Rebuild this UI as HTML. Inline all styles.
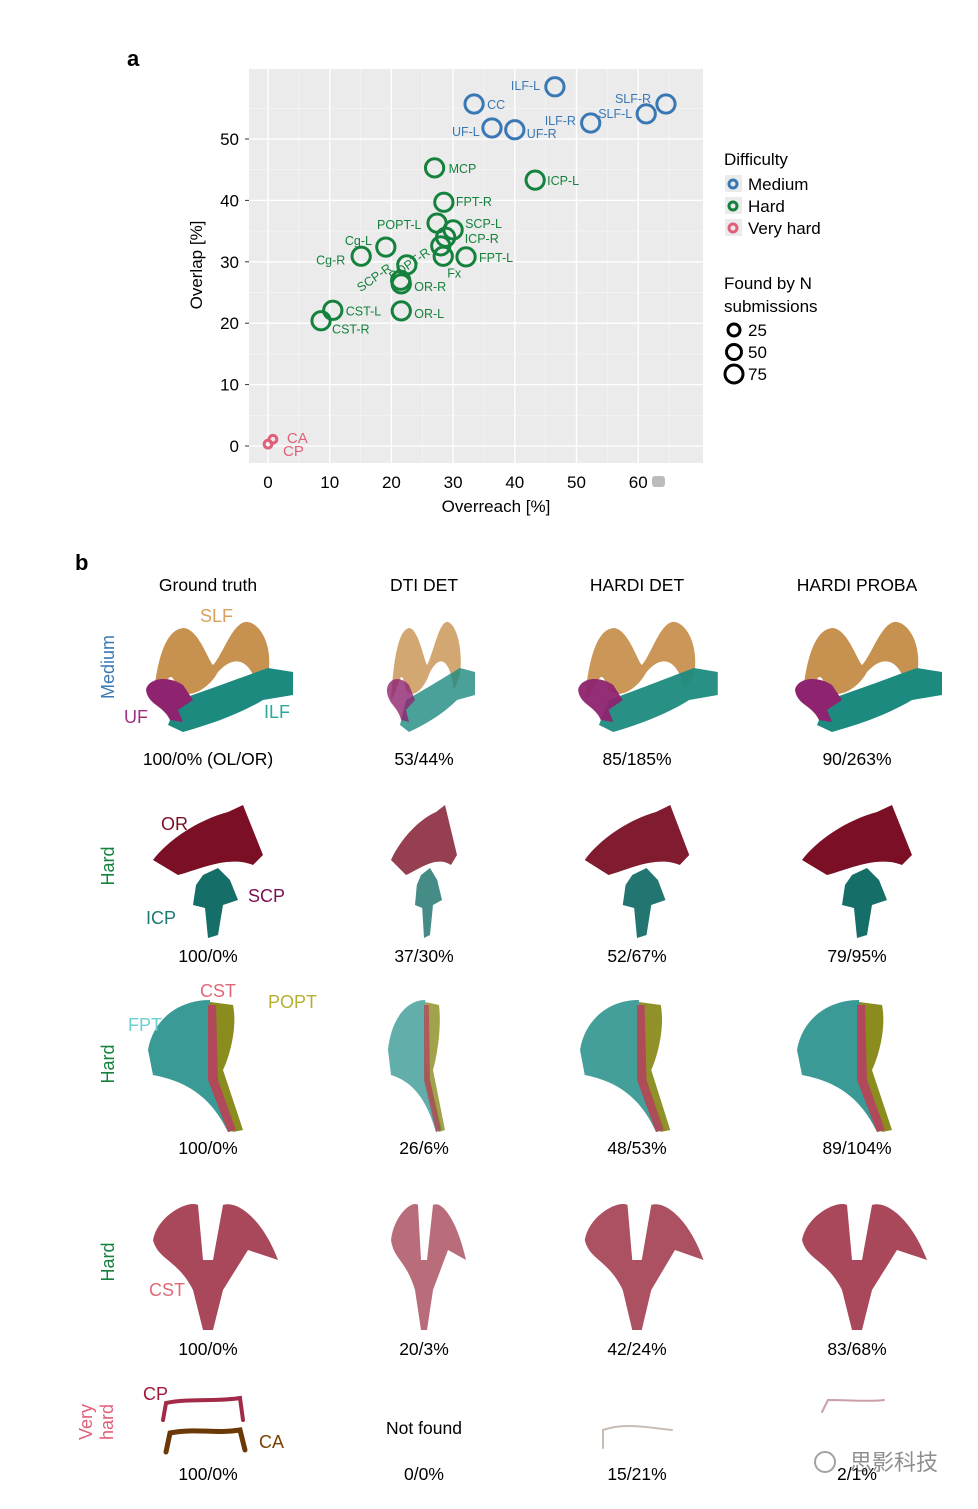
<!DOCTYPE html>
<html><head><meta charset="utf-8"><style>
html,body{margin:0;padding:0;background:#fff;}
body{width:978px;height:1504px;position:relative;overflow:hidden;font-family:"Liberation Sans","Noto Sans CJK SC",sans-serif;}
svg text{font-family:"Liberation Sans","Noto Sans CJK SC",sans-serif;}
</style></head><body>
<svg id="chart" width="978" height="1504" viewBox="0 0 978 1504" xmlns="http://www.w3.org/2000/svg">
<text x="127" y="66" font-size="22" font-weight="bold">a</text>
<rect x="249" y="69" width="454" height="394" fill="#ebebeb"/>
<g id="grid"></g>
<g id="xaxis"></g>
<g id="yaxis"></g>
<text x="496" y="512" font-size="17" text-anchor="middle">Overreach [%]</text>
<text transform="translate(202,265) rotate(-90)" font-size="17" text-anchor="middle">Overlap [%]</text>
<rect x="652" y="476" width="13" height="11" rx="3" fill="#bbb"/>
<g id="points"></g>
<g>
<text x="724" y="165" font-size="17">Difficulty</text>
<g><rect x="725" y="175" width="17" height="17" fill="#ebebeb"/><circle cx="733" cy="184" r="4" fill="none" stroke="#3a78b5" stroke-width="3"/><text x="748" y="190" font-size="17">Medium</text></g>
<g><rect x="725" y="197" width="17" height="17" fill="#ebebeb"/><circle cx="733" cy="206" r="4" fill="none" stroke="#14823c" stroke-width="3"/><text x="748" y="212" font-size="17">Hard</text></g>
<g><rect x="725" y="219" width="17" height="17" fill="#ebebeb"/><circle cx="733" cy="228" r="4" fill="none" stroke="#e0607a" stroke-width="3"/><text x="748" y="234" font-size="17">Very hard</text></g>
<text x="724" y="289" font-size="17">Found by N</text>
<text x="724" y="312" font-size="17">submissions</text>
<g><circle cx="734" cy="330" r="6" fill="none" stroke="#000" stroke-width="3"/><text x="748" y="336" font-size="17">25</text></g>
<g><circle cx="734" cy="352" r="7.5" fill="none" stroke="#000" stroke-width="3"/><text x="748" y="358" font-size="17">50</text></g>
<g><circle cx="734" cy="374" r="9" fill="none" stroke="#000" stroke-width="3"/><text x="748" y="380" font-size="17">75</text></g>
</g>

<text x="75" y="570" font-size="22" font-weight="bold">b</text>
<g font-size="17.5" text-anchor="middle">
<text x="208" y="591">Ground truth</text>
<text x="424" y="591">DTI DET</text>
<text x="637" y="591">HARDI DET</text>
<text x="857" y="591">HARDI PROBA</text>
</g>
<g font-size="18" text-anchor="middle">
<text transform="translate(114,667) rotate(-90)" fill="#3a78b5">Medium</text>
<text transform="translate(114,866) rotate(-90)" fill="#14823c">Hard</text>
<text transform="translate(114,1064) rotate(-90)" fill="#14823c">Hard</text>
<text transform="translate(114,1262) rotate(-90)" fill="#14823c">Hard</text>
<text transform="translate(92,1422) rotate(-90)" fill="#e0607a">Very</text>
<text transform="translate(113,1422) rotate(-90)" fill="#e0607a">hard</text>
</g>
<g id="tracts"></g>
<g font-size="17.5" text-anchor="middle">
<text x="208" y="765">100/0% (OL/OR)</text><text x="424" y="765">53/44%</text><text x="637" y="765">85/185%</text><text x="857" y="765">90/263%</text>
<text x="208" y="962">100/0%</text><text x="424" y="962">37/30%</text><text x="637" y="962">52/67%</text><text x="857" y="962">79/95%</text>
<text x="208" y="1154">100/0%</text><text x="424" y="1154">26/6%</text><text x="637" y="1154">48/53%</text><text x="857" y="1154">89/104%</text>
<text x="208" y="1355">100/0%</text><text x="424" y="1355">20/3%</text><text x="637" y="1355">42/24%</text><text x="857" y="1355">83/68%</text>
<text x="424" y="1434">Not found</text>
<text x="208" y="1480">100/0%</text><text x="424" y="1480">0/0%</text><text x="637" y="1480">15/21%</text><text x="857" y="1480">2/1%</text>
</g>
<g font-size="18">
<text x="200" y="622" fill="#d9a060">SLF</text><text x="124" y="723" fill="#a03080">UF</text><text x="264" y="718" fill="#2aa89c">ILF</text>
<text x="161" y="830" fill="#7a0f25">OR</text><text x="248" y="902" fill="#7a1050">SCP</text><text x="146" y="924" fill="#1a7a70">ICP</text>
<text x="200" y="997" fill="#e06878">CST</text><text x="268" y="1008" fill="#b5b030">POPT</text><text x="128" y="1031" fill="#6dd0d0">FPT</text>
<text x="149" y="1296" fill="#e06878">CST</text>
<text x="143" y="1400" fill="#a01838">CP</text><text x="259" y="1448" fill="#7a4000">CA</text>
</g>
<g opacity="0.6"><text x="850" y="1470" font-size="22" fill="#444">思影科技</text><circle cx="825" cy="1462" r="10" fill="none" stroke="#666" stroke-width="2"/></g>
</svg>
<script>
const xTicks=[0,10,20,30,40,50,60];
const yTicks=[0,10,20,30,40,50];
const labels=["ILF-L","CC","SLF-R","SLF-L","ILF-R","UF-L","UF-R","MCP","ICP-L","FPT-R","POPT-L","SCP-L","ICP-R","Cg-L","Cg-R","POPT-R","FPT-L","Fx","Fx2","SCP-R","OR-R","OR-L","CST-L","CST-R","CA","CP"];
const overreach=[46.5,33.4,64.5,61.3,52.3,36.3,40,27,43.3,28.5,27.4,30,28.8,19.1,15.1,22.5,32.1,28.4,28,21.5,21.6,21.6,10.5,8.6,0.8,0];
const overlap=[58.5,55.7,55.7,54.1,52.6,51.8,51.5,45.3,43.3,39.7,36.3,35.2,34,32.4,30.9,29.5,30.8,30.9,32.6,27,26.4,22,22.1,20.4,1.1,0.3];
const difficulty=["M","M","M","M","M","M","M","H","H","H","H","H","H","H","H","H","H","H","H","H","H","H","H","H","V","V"];
const nFound=[75,75,75,75,75,75,75,75,75,75,75,75,75,75,75,75,75,75,75,75,75,75,75,75,5,5];
const NS="http://www.w3.org/2000/svg";
const X=v=>268+v*6.17, Y=v=>446-v*6.14, R=n=>3.5+n*0.075;
const col={M:"#3a78b5",H:"#14823c",V:"#e0607a"};
function mk(t,a,p){const e=document.createElementNS(NS,t);for(const k in a)e.setAttribute(k,a[k]);p.appendChild(e);return e;}
const grid=document.getElementById('grid');
for(let i=0;i<xTicks.length;i++){const v=xTicks[i];const l=mk('line',{x1:X(v),x2:X(v),y1:69,y2:463,stroke:'#fff','stroke-width':1.3},grid);


const m=mk('line',{x1:X(v+5),x2:X(v+5),y1:69,y2:463,stroke:'#f6f6f6','stroke-width':0.7},grid);


const t=mk('text',{x:X(v),y:488,'font-size':17,'text-anchor':'middle'},document.getElementById('xaxis'));t.textContent=v;

}
for(let i=0;i<yTicks.length;i++){const v=yTicks[i];const l=mk('line',{y1:Y(v),y2:Y(v),x1:249,x2:703,stroke:'#fff','stroke-width':1.3},grid);


const m=mk('line',{y1:Y(v+5),y2:Y(v+5),x1:249,x2:703,stroke:'#f6f6f6','stroke-width':0.7},grid);


const tk=mk('line',{x1:245,x2:249,y1:Y(v),y2:Y(v),stroke:'#333'},document.getElementById('yaxis'));


const t=mk('text',{x:239,y:Y(v)+6,'font-size':17,'text-anchor':'end'},document.getElementById('yaxis'));t.textContent=v;

}
const pts=document.getElementById('points');
const lblOff={"ILF-L":[-44,3],"CC":[13,5],"SLF-R":[-51,-1],"SLF-L":[-48,4],"ILF-R":[-46,2],"UF-L":[-40,8],"UF-R":[12,8],"MCP":[14,5],"ICP-L":[12,5],"FPT-R":[12,4],"POPT-L":[-60,6],"SCP-L":[12,-2],"ICP-R":[19,6],"Cg-L":[-41,-2],"Cg-R":[-45,8],"POPT-R":[-14,16,"r"],"FPT-L":[13,5],"Fx":[4,21],"Fx2":null,"SCP-R":[-40,12,"r"],"OR-R":[13,7],"OR-L":[13,7],"CST-L":[13,5],"CST-R":[11,13],"CA":[14,4],"CP":[15,12]};
for(let i=0;i<labels.length;i++){
 const cx=X(overreach[i]),cy=Y(overlap[i]);
 const c=mk('circle',{cx:cx,cy:cy,r:R(nFound[i]),fill:'none',stroke:col[difficulty[i]],'stroke-width':3},pts);
 
 
 const o=lblOff[labels[i]];if(!o)continue;
 const a={x:cx+o[0],y:cy+o[1],'font-size':difficulty[i]==='V'?15:12.5,fill:col[difficulty[i]]};
 if(o[2]==='r')a.transform='rotate(-35 '+(cx+o[0])+' '+(cy+o[1])+')';
 const t=mk('text',a,pts);t.textContent=labels[i];
 
 }
const tr=document.getElementById('tracts');
const cols=[208,424,637,857], op=[1,0.8,0.95,1], sc=[1,0.6,0.95,1.0];
function shape(d,fill,cx,s,o){const p=mk('path',{d:d,fill:fill,opacity:o,transform:'translate('+cx+',0) scale('+s+',1)'},tr);

}
for(let c=0;c<4;c++){const cx=cols[c],s=sc[c],o=op[c];
 shape('M-55,700 C-50,650 -40,630 -25,628 C-10,628 0,660 5,665 C15,655 25,620 40,622 C55,625 65,650 60,675 L50,690 C45,665 30,650 10,672 C0,690 -20,700 -30,690 C-40,660 -40,690 -55,700Z','#c7914f',cx,s,o);
 shape('M-40,725 L-30,700 C0,690 40,675 60,668 L85,672 L85,695 L55,700 C30,715 0,725 -25,732Z','#1d8a80',cx,s,o);
 shape('M-62,690 C-60,678 -40,675 -25,685 L-15,700 L-30,710 L-25,722 L-38,720 C-45,705 -60,705 -62,690Z','#8e2470',cx,s,o);
 shape('M-55,860 C-40,840 -10,820 20,812 L35,805 L45,830 L55,855 L45,865 C20,855 -10,870 -30,875Z','#7a0f25',cx,s,o);
 shape('M-5,875 L10,868 L22,880 L30,900 L15,905 L10,935 L0,938 L-3,908 L-15,905 L-12,885Z','#166e68',cx,s,o);
 shape('M-60,1050 C-55,1020 -30,1000 2,1000 L2,1060 L30,1130 L20,1132 C0,1090 -30,1080 -55,1075Z','#3a9a95',cx,s,o);
 shape('M2,1002 L25,1005 C30,1030 20,1060 15,1070 L35,1130 L25,1132 L2,1080Z','#8a8c1e',cx,s,o);
 shape('M0,1005 L8,1005 L10,1080 L28,1130 L20,1132 L0,1080Z','#b04a5a',cx,s,o);
 shape('M-55,1240 C-50,1215 -20,1200 -10,1205 L-5,1260 L5,1260 L15,1205 C30,1200 55,1220 70,1260 L40,1250 L15,1290 L5,1330 L-5,1330 L-15,1290 C-30,1260 -50,1260 -55,1240Z','#a8485a',cx,s,o);
}
function line(d,st,w){const p=mk('path',{d:d,fill:'none',stroke:st,'stroke-width':w,'stroke-linecap':'round'},tr);

}
line('M163,1420 L166,1403 C190,1398 215,1402 240,1398 L243,1420','#a02a48',4);
line('M166,1452 L170,1433 C195,1428 215,1434 240,1430 L245,1450','#6b3808',5);
line('M603,1448 L603,1430 C625,1422 650,1428 672,1430','#c8bcb4',2);
line('M822,1412 L828,1400 C850,1400 870,1402 884,1400','#c9a0a8',2);
</script>
</body></html>
